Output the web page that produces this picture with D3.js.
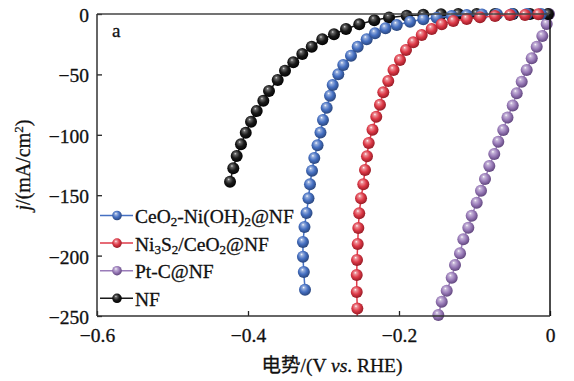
<!DOCTYPE html>
<html><head><meta charset="utf-8">
<script src="https://cdn.jsdelivr.net/npm/d3@7"></script>
<style>body{margin:0;background:#fff} svg{display:block}</style>
</head><body>
<svg id="c" width="574" height="381"></svg>
<script>
// ---- data ----
const xTicks = [-0.6, -0.4, -0.2, 0];
const yTicks = [0, -50, -100, -150, -200, -250];

const ceoNiV = [-0.3245,-0.3261,-0.3272,-0.3272,-0.3252,-0.3225,-0.3199,-0.3179,-0.3152,-0.3122,-0.3079,-0.3040,-0.3007,-0.2958,-0.2914,-0.2878,-0.2804,-0.2738,-0.2636,-0.2547,-0.2428,-0.2318,-0.2179,-0.2030,-0.1854,-0.1678,-0.1501,-0.1302,-0.1103,-0.0901,-0.0702,-0.0503,-0.0305,-0.0119];
const ceoNiJ = [-228.3,-213.6,-200.9,-188.7,-176.3,-164.7,-152.6,-141.0,-129.7,-119.2,-108.7,-98.1,-87.7,-77.6,-67.6,-58.8,-49.9,-42.2,-34.5,-27.1,-20.9,-16.0,-11.8,-9.1,-6.4,-4.4,-3.1,-1.7,-0.8,-0.4,-0.2,-0.1,0,0];

const niSV = [-0.2556,-0.2552,-0.2560,-0.2560,-0.2556,-0.2547,-0.2539,-0.2527,-0.2503,-0.2473,-0.2450,-0.2424,-0.2401,-0.2351,-0.2301,-0.2252,-0.2208,-0.2142,-0.2073,-0.1987,-0.1907,-0.1811,-0.1699,-0.1567,-0.1434,-0.1281,-0.1103,-0.0927,-0.0728,-0.0530,-0.0331,-0.0155];
const niSJ = [-258.0,-243.8,-230.1,-216.1,-203.6,-190.4,-177.2,-165.0,-152.6,-141.0,-129.1,-117.8,-106.8,-95.8,-85.0,-75.1,-64.8,-55.5,-46.4,-38.1,-29.8,-23.4,-17.4,-12.4,-8.5,-5.8,-4.1,-2.7,-1.7,-0.8,-0.8,-0.2];

const ptcV = [-0.1479,-0.1434,-0.1368,-0.1302,-0.1258,-0.1192,-0.1148,-0.1082,-0.1037,-0.0971,-0.0914,-0.0861,-0.0804,-0.0738,-0.0685,-0.0619,-0.0563,-0.0494,-0.0441,-0.0375,-0.0309,-0.0242,-0.0176,-0.0102,-0.0044,-0.0013];
const ptcJ = [-249.2,-238.2,-229.1,-218.3,-207.8,-198.1,-186.5,-176.9,-167.0,-156.2,-146.3,-136.6,-125.8,-115.9,-105.7,-96.0,-85.7,-75.7,-65.6,-56.0,-46.4,-36.7,-27.1,-18.2,-8.3,0];

const nfV = [-0.4238,-0.4195,-0.4150,-0.4093,-0.4030,-0.3960,-0.3885,-0.3797,-0.3722,-0.3607,-0.3510,-0.3400,-0.3281,-0.3156,-0.3016,-0.2861,-0.2702,-0.2526,-0.2327,-0.2132,-0.1898,-0.1678,-0.1444,-0.1215,-0.0971,-0.0728,-0.0490,-0.0265,-0.0026];
const nfJ = [-138.8,-127.7,-117.5,-107.9,-98.3,-89.2,-80.3,-71.8,-63.7,-54.6,-46.9,-40.0,-33.1,-27.1,-20.9,-16.8,-12.4,-8.5,-5.2,-2.9,-1.5,-0.7,-0.2,0,0,0,0,0,0];

const seriesKeys = ["ceoNi", "niS", "ptc", "nf"];
const seriesV = {ceoNi: ceoNiV, niS: niSV, ptc: ptcV, nf: nfV};
const seriesJ = {ceoNi: ceoNiJ, niS: niSJ, ptc: ptcJ, nf: nfJ};
const seriesColor = {ceoNi: "#4670c2", niS: "#de3a48", ptc: "#9a7cb9", nf: "#1a1a1a"};
// legend labels: [text, isSub] pieces
const seriesLabel = {
  ceoNi: [["CeO",0],["2",1],["-Ni(OH)",0],["2",1],["@NF",0]],
  niS:   [["Ni",0],["3",1],["S",0],["2",1],["/CeO",0],["2",1],["@NF",0]],
  ptc:   [["Pt-C@NF",0]],
  nf:    [["NF",0]]
};
const drawOrder = ["ptc", "nf", "ceoNi", "niS"];

// ---- chart ----
const svg = d3.select("#c");
const FONT = "'Liberation Serif','Times New Roman',serif";
const L = 97, R = 550, T = 14, B = 316;
const x = d3.scaleLinear().domain([-0.6, 0]).range([L, R]);
const y = d3.scaleLinear().domain([-250, 0]).range([B, T]);

const defs = svg.append("defs");
function shade(c, k) { const h = d3.hsl(c); h.l = Math.max(0, Math.min(1, h.l * k)); return h.formatHex(); }
seriesKeys.forEach(k => {
  const c = seriesColor[k];
  const g = defs.append("radialGradient").attr("id", "g_" + k)
    .attr("cx", 0.45).attr("cy", 0.42).attr("r", 0.6).attr("fx", 0.38).attr("fy", 0.3);
  const hi = k === "nf" ? "#d8d8d8" : "#ffffff";
  g.append("stop").attr("offset", "0%").attr("stop-color", hi);
  g.append("stop").attr("offset", "18%").attr("stop-color", k === "nf" ? "#666" : d3.interpolateRgb(c, "#fff")(0.45));
  g.append("stop").attr("offset", "55%").attr("stop-color", c);
  g.append("stop").attr("offset", "100%").attr("stop-color", k === "nf" ? "#000" : shade(c, 0.6));
});
defs.append("clipPath").attr("id", "plotclip").append("rect")
  .attr("x", L).attr("y", T).attr("width", R - L).attr("height", B - T);

// series
const line = d3.line().x(d => x(d[0])).y(d => y(d[1]));
const R_M = 6;
drawOrder.forEach(k => {
  const pts = seriesV[k].map((v, i) => [v, seriesJ[k][i]]);
  svg.append("path").datum(pts).attr("d", line).attr("fill", "none")
    .attr("stroke", seriesColor[k]).attr("stroke-width", 1.5).attr("clip-path", "url(#plotclip)");
  svg.append("g").selectAll("circle").data(pts.filter(p => p[1] >= -251)).join("circle")
    .attr("cx", d => x(d[0])).attr("cy", d => y(d[1])).attr("r", R_M)
    .attr("fill", `url(#g_${k})`);
});

// axes
const xAxis = d3.axisBottom(x).tickValues(xTicks).tickSizeInner(-5).tickSizeOuter(0)
  .tickFormat(d => d === 0 ? "0" : d3.format(".1f")(d));
const yAxis = d3.axisLeft(y).tickValues(yTicks).tickSizeInner(-5).tickSizeOuter(0).tickPadding(8)
  .tickFormat(d => d3.format("d")(d));

const TXT_STROKE = 0.3;
const gx = svg.append("g").attr("transform", `translate(0,${B})`).call(xAxis);
gx.select(".domain").remove();
gx.selectAll(".tick line").attr("stroke", "#222").attr("stroke-width", 1.3);
gx.selectAll(".tick text").attr("y", 26).attr("dy", 0).attr("fill", "#111")
  .attr("stroke", "#111").attr("stroke-width", TXT_STROKE)
  .style("font-family", FONT).style("font-size", "19.5px");

const gy = svg.append("g").attr("transform", `translate(${L},0)`).call(yAxis);
gy.select(".domain").remove();
gy.selectAll(".tick line").attr("stroke", "#222").attr("stroke-width", 1.3);
gy.selectAll(".tick text").attr("dy", "0.38em").attr("fill", "#111")
  .attr("stroke", "#111").attr("stroke-width", TXT_STROKE)
  .style("font-family", FONT).style("font-size", "19.5px");

// frame (drawn over markers)
svg.append("line").attr("x1", L).attr("x2", R).attr("y1", T).attr("y2", T).attr("stroke", "#444").attr("stroke-width", 1.5);
svg.append("line").attr("x1", R).attr("x2", R).attr("y1", T).attr("y2", B).attr("stroke", "#111").attr("stroke-width", 1.5);
svg.append("line").attr("x1", L).attr("x2", L).attr("y1", T).attr("y2", B).attr("stroke", "#333").attr("stroke-width", 1.5);
svg.append("line").attr("x1", L).attr("x2", R).attr("y1", B).attr("y2", B).attr("stroke", "#333").attr("stroke-width", 1.5);

// panel label
svg.append("text").attr("x", 112).attr("y", 37).text("a")
  .attr("stroke", "#111").attr("stroke-width", TXT_STROKE)
  .style("font-family", FONT).style("font-size", "19px").attr("fill", "#111");

// legend
const legY0 = 215.5, legStep = 27.6;
seriesKeys.forEach((k, i) => {
  const yy = legY0 + i * legStep;
  const g = svg.append("g");
  g.append("line").attr("x1", 100).attr("x2", 133).attr("y1", yy).attr("y2", yy)
    .attr("stroke", seriesColor[k]).attr("stroke-width", 1.5);
  g.append("circle").attr("cx", 117).attr("cy", yy).attr("r", 4.8).attr("fill", `url(#g_${k})`);
  const t = g.append("text").attr("x", 135).attr("y", yy + 7.5)
    .attr("stroke", "#111").attr("stroke-width", TXT_STROKE)
    .style("font-family", FONT).style("font-size", "19.5px").attr("fill", "#111");
  seriesLabel[k].forEach(([s, sub]) => {
    const ts = t.append("tspan").text(s);
    if (sub) ts.attr("baseline-shift", "-22%").style("font-size", "13px");
  });
});

// axis titles
const xt = svg.append("text").attr("x", 332).attr("y", 372).attr("text-anchor", "middle")
  .attr("stroke", "#111").attr("stroke-width", TXT_STROKE)
  .style("font-family", FONT).style("font-size", "19.5px").attr("fill", "#111");
xt.append("tspan").text("电势").style("font-family", "'Noto Sans CJK SC',sans-serif").style("font-size", "19.5px");
xt.append("tspan").text("/(V ");
xt.append("tspan").text("vs").style("font-style", "italic");
xt.append("tspan").text(". RHE)");

const yt = svg.append("text").attr("transform", "translate(30,165) rotate(-90)").attr("text-anchor", "middle")
  .attr("stroke", "#111").attr("stroke-width", TXT_STROKE)
  .style("font-family", FONT).style("font-size", "20px").attr("fill", "#111");
yt.append("tspan").text("j").style("font-style", "italic");
yt.append("tspan").text("/(mA/cm");
yt.append("tspan").text("2").attr("baseline-shift", "super").style("font-size", "13px");
yt.append("tspan").text(")");
</script>
</body></html>
